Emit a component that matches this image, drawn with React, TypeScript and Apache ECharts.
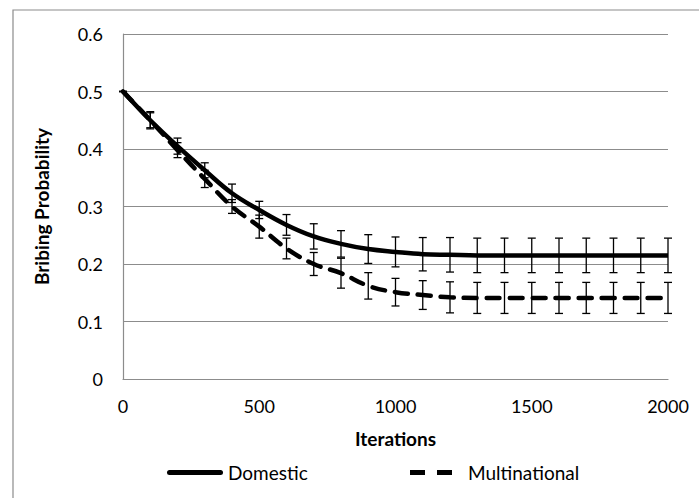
import React, { useEffect, useRef } from "react";
import * as echarts from "echarts";

const iterations = [0, 100, 200, 300, 400, 500, 600, 700, 800, 900, 1000, 1100, 1200, 1300, 1400, 1500, 1600, 1700, 1800, 1900, 2000];
const domestic = [0.5, 0.45, 0.405, 0.363, 0.323, 0.294, 0.268, 0.248, 0.235, 0.226, 0.221, 0.217, 0.216, 0.215, 0.215, 0.215, 0.215, 0.215, 0.215, 0.215, 0.215];
const domesticErr = [0, 0.015, 0.014, 0.013, 0.016, 0.015, 0.018, 0.022, 0.023, 0.025, 0.026, 0.029, 0.03, 0.03, 0.03, 0.03, 0.03, 0.03, 0.03, 0.03, 0.03];
const multinational = [0.5, 0.45, 0.398, 0.348, 0.3, 0.265, 0.227, 0.2, 0.184, 0.162, 0.151, 0.146, 0.142, 0.141, 0.141, 0.141, 0.141, 0.141, 0.141, 0.141, 0.141];
const multinationalErr = [0, 0.013, 0.013, 0.015, 0.012, 0.02, 0.018, 0.02, 0.026, 0.023, 0.024, 0.025, 0.027, 0.027, 0.027, 0.027, 0.027, 0.027, 0.027, 0.027, 0.027];

const FONT = "Lato, 'Open Sans', sans-serif";

function errorSeries(values: number[], errs: number[], name: string) {
  return {
    type: "custom",
    name,
    silent: true,
    z: 3,
    data: iterations.map((x, i) => [x, values[i] - errs[i], values[i] + errs[i]]),
    renderItem: (params: any, api: any) => {
      const x = api.value(0);
      const lo = api.coord([x, api.value(1)]);
      const hi = api.coord([x, api.value(2)]);
      const w = 4;
      const style = { stroke: "#000", lineWidth: 1.3 };
      return {
        type: "group",
        children: [
          { type: "line", shape: { x1: lo[0], y1: lo[1], x2: hi[0], y2: hi[1] }, style },
          { type: "line", shape: { x1: hi[0] - w, y1: hi[1], x2: hi[0] + w, y2: hi[1] }, style },
          { type: "line", shape: { x1: lo[0] - w, y1: lo[1], x2: lo[0] + w, y2: lo[1] }, style },
        ],
      };
    },
  };
}

export default function App() {
  const ref = useRef<HTMLDivElement>(null);
  useEffect(() => {
    const chart = echarts.init(ref.current!, null, { renderer: "svg" });
    chart.setOption({
      animation: false,
      backgroundColor: "#fff",
      textStyle: { fontFamily: FONT },
      graphic: [
        {
          type: "rect",
          shape: { x: 13, y: 10, width: 720, height: 520 },
          style: { fill: "none", stroke: "#8c8c8c", lineWidth: 1.2 },
          silent: true,
        },
      ],
      grid: { left: 123, right: 31, top: 34, bottom: 119 },
      legend: [
        {
          left: 162,
          top: 458,
          itemWidth: 56,
          itemHeight: 5,
          icon: "path://M2.5,0H53.5A2.5,2.5,0,0,1,53.5,5H2.5A2.5,2.5,0,0,1,2.5,0Z",
          textStyle: { fontFamily: FONT, fontSize: 19, color: "#000" },
          data: ["Domestic"],
        },
        {
          left: 405,
          top: 458,
          itemWidth: 42,
          itemHeight: 5,
          icon: "path://M0,0H15V5H0ZM27,0H42V5H27Z",
          textStyle: { fontFamily: FONT, fontSize: 19, color: "#000", padding: [0, 0, 0, 11] },
          data: ["Multinational"],
        },
      ],
      xAxis: {
        type: "value",
        min: 0,
        max: 2000,
        interval: 500,
        name: "Iterations",
        nameLocation: "middle",
        nameGap: 50,
        nameTextStyle: { fontFamily: FONT, fontSize: 19, fontWeight: "bold", color: "#000" },
        axisLine: { show: true, lineStyle: { color: "#8c8c8c", width: 1.2 } },
        axisTick: { show: false },
        splitLine: { show: false },
        axisLabel: { fontFamily: FONT, fontSize: 18, color: "#000", margin: 18, formatter: (v: number) => String(v) },
      },
      yAxis: {
        type: "value",
        min: 0,
        max: 0.6,
        interval: 0.1,
        name: "Bribing Probability",
        nameLocation: "middle",
        nameGap: 72,
        nameRotate: 90,
        nameTextStyle: { fontFamily: FONT, fontSize: 19, fontWeight: "bold", color: "#000" },
        axisLine: { show: true, lineStyle: { color: "#8c8c8c", width: 1.2 } },
        axisTick: { show: false },
        splitLine: { show: true, lineStyle: { color: "#8c8c8c", width: 1.2 } },
        axisLabel: { fontFamily: FONT, fontSize: 18, color: "#000", margin: 20, formatter: (v: number) => String(Math.round(v * 10) / 10) },
      },
      series: [
        {
          type: "line",
          name: "Domestic",
          data: iterations.map((x, i) => [x, domestic[i]]),
          smooth: 0.4,
          showSymbol: false,
          symbol: "none",
          lineStyle: { color: "#000", width: 4.5 },
          itemStyle: { color: "#000" },
          z: 4,
        },
        {
          type: "line",
          name: "Multinational",
          data: iterations.map((x, i) => [x, multinational[i]]),
          smooth: 0.4,
          showSymbol: false,
          symbol: "none",
          lineStyle: { color: "#000", width: 4.5, type: [13, 10], cap: "round" },
          itemStyle: { color: "#000" },
          z: 4,
        },
        errorSeries(domestic, domesticErr, "DomesticErr"),
        errorSeries(multinational, multinationalErr, "MultinationalErr"),
      ],
    });
    return () => chart.dispose();
  }, []);
  return <div ref={ref} style={{ position: "absolute", left: 0, top: 0, width: 699, height: 498 }} />;
}
